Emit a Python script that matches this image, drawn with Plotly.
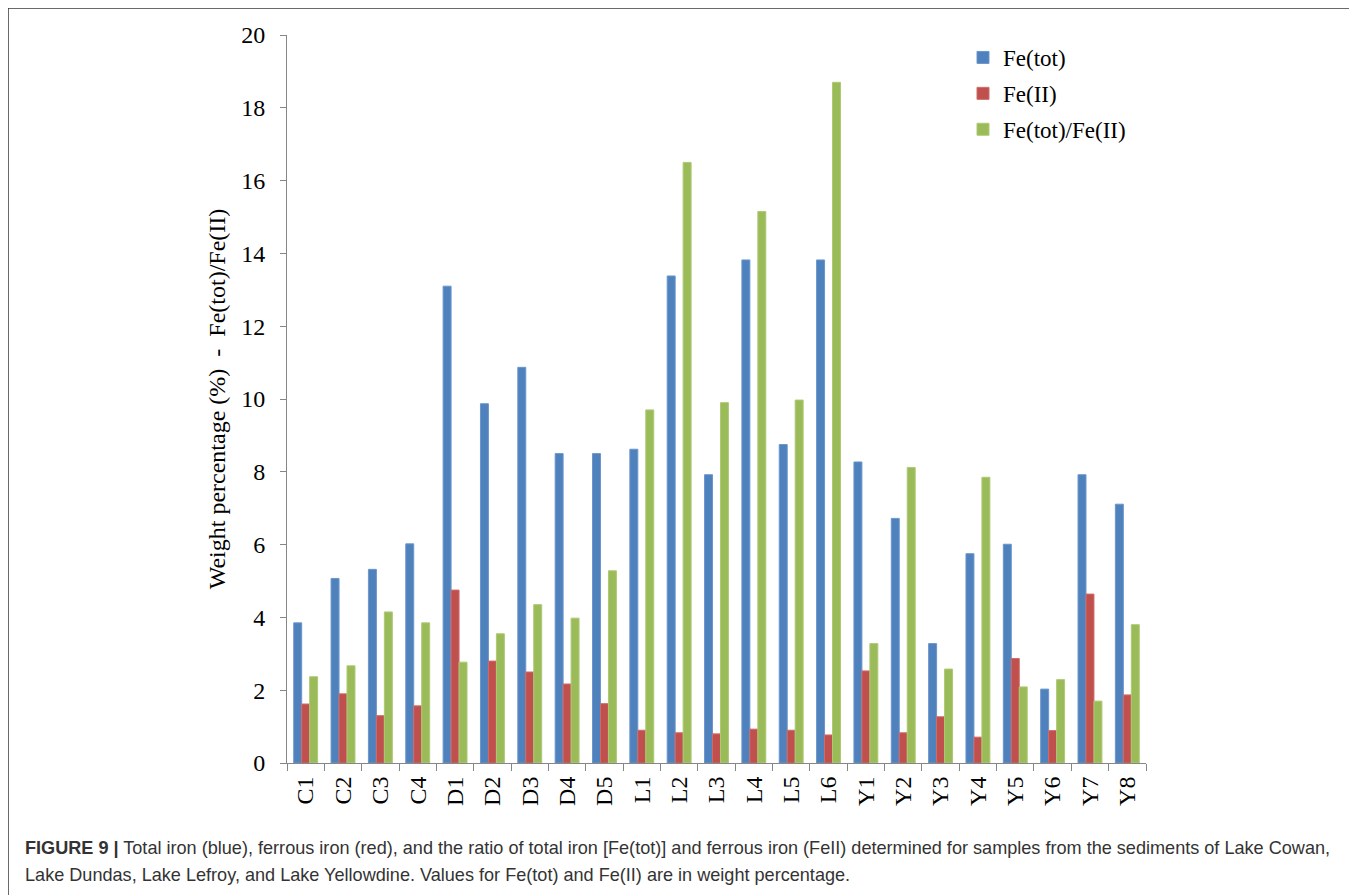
import plotly.graph_objects as go

samples = ["C1", "C2", "C3", "C4", "D1", "D2", "D3", "D4", "D5",
           "L1", "L2", "L3", "L4", "L5", "L6",
           "Y1", "Y2", "Y3", "Y4", "Y5", "Y6", "Y7", "Y8"]
fe_tot = [3.85, 5.07, 5.32, 6.02, 13.1, 9.87, 10.87, 8.5, 8.5,
          8.62, 13.38, 7.92, 13.82, 8.75, 13.82,
          8.27, 6.72, 3.28, 5.75, 6.01, 2.03, 7.92, 7.11]
fe_ii = [1.62, 1.9, 1.3, 1.57, 4.75, 2.8, 2.5, 2.17, 1.63,
         0.9, 0.83, 0.8, 0.93, 0.9, 0.77,
         2.53, 0.83, 1.27, 0.71, 2.87, 0.89, 4.64, 1.87]
ratio = [2.37, 2.67, 4.15, 3.85, 2.77, 3.55, 4.35, 3.98, 5.28,
         9.7, 16.5, 9.9, 15.15, 9.97, 18.7,
         3.28, 8.12, 2.58, 7.85, 2.09, 2.29, 1.7, 3.8]
series_names = ["Fe(tot)", "Fe(II)", "Fe(tot)/Fe(II)"]
y_ticks = [0, 2, 4, 6, 8, 10, 12, 14, 16, 18, 20]

colors = ["#4F81BD", "#C0504D", "#9BBB59"]
outlines = ["#6A96CC", "#CF6B68", "#ADC975"]

serif = "Liberation Serif, Times New Roman, serif"
sans = "Liberation Sans, Arial, sans-serif"

fig = go.Figure()
for name, vals, c, oc in zip(series_names, [fe_tot, fe_ii, ratio], colors, outlines):
    fig.add_trace(go.Bar(
        x=samples, y=vals, name=name, legendgroup=name,
        marker=dict(color=c, line=dict(color=oc, width=1)),
    ))

OFF = 8  # page body margin
W, H = 1357, 895
L, R, T, B = 287 - OFF, 1146 - OFF, 35 - OFF, 763 - OFF
pw, ph = R - L, B - T

def px(x):
    return (x - OFF - L) / pw

def py(y):
    return (B - (y - OFF)) / ph

fig.update_layout(
    width=W, height=H,
    margin=dict(l=L, r=W - R, t=T, b=H - B, autoexpand=False),
    paper_bgcolor="white", plot_bgcolor="white",
    barmode="group", bargap=0.36, bargroupgap=0,
    font=dict(family=serif, size=24, color="black"),
    showlegend=True,
    legend=dict(
        x=px(963), y=py(36), xanchor="left", yanchor="top",
        font=dict(family=serif, size=23, color="black"),
        traceorder="grouped", tracegroupgap=3,
        bgcolor="rgba(0,0,0,0)", itemwidth=30,
    ),
    xaxis=dict(
        type="category", showline=True, linecolor="#868686", linewidth=1,
        ticks="outside", tickson="boundaries", ticklen=7, tickcolor="#868686",
        tickangle=-90, tickfont=dict(family=serif, size=24, color="black"),
        showgrid=False, zeroline=False, ticklabelstandoff=3,
    ),
    yaxis=dict(
        range=[0, 20], tickvals=y_ticks, showline=True, linecolor="#868686",
        linewidth=1, ticks="outside", ticklen=6, tickcolor="#868686",
        tickfont=dict(family=serif, size=24, color="black"),
        showgrid=False, zeroline=False, ticklabelstandoff=10,
        title=dict(text="Weight percentage (%) &nbsp;- &nbsp;Fe(tot)/Fe(II)",
                   font=dict(family=serif, size=24, color="black"), standoff=8),
    ),
    shapes=[dict(type="rect", xref="paper", yref="paper",
                 x0=px(8), x1=px(1355), y0=py(910), y1=py(8),
                 line=dict(color="#3a3a3a", width=1.5), layer="below")],
    annotations=[
        dict(xref="paper", yref="paper", x=px(23), y=py(848), xanchor="left",
             yanchor="middle", showarrow=False, align="left",
             text="<b>FIGURE 9 |</b> Total iron (blue), ferrous iron (red), and the ratio of total iron [Fe(tot)] and ferrous iron (FeII) determined for samples from the sediments of Lake Cowan,",
             font=dict(family=sans, size=18.1, color="#333333")),
        dict(xref="paper", yref="paper", x=px(23), y=py(875), xanchor="left",
             yanchor="middle", showarrow=False, align="left",
             text="Lake Dundas, Lake Lefroy, and Lake Yellowdine. Values for Fe(tot) and Fe(II) are in weight percentage.",
             font=dict(family=sans, size=18.1, color="#333333")),
    ],
)

fig.write_html("out.html")
